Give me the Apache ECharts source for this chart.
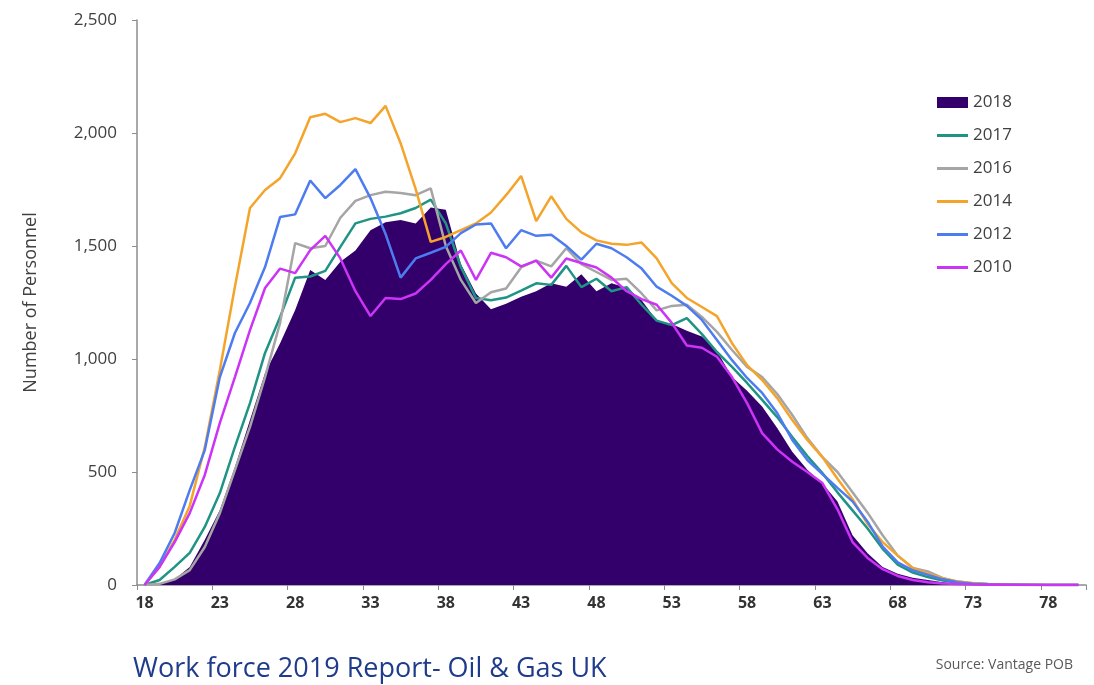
<!DOCTYPE html>
<html>
<head>
<meta charset="utf-8">
<script src="https://cdn.jsdelivr.net/npm/echarts@6/dist/echarts.min.js"></script>
<style>
  html, body { margin: 0; padding: 0; background: #fff; }
  #chart { width: 1094px; height: 685px; }
</style>
</head>
<body>
<div id="chart"></div>
<script>
// ages 18..80
const ages = ['18','19','20','21','22','23','24','25','26','27',
  '28','29','30','31','32','33','34','35','36','37',
  '38','39','40','41','42','43','44','45','46','47',
  '48','49','50','51','52','53','54','55','56','57',
  '58','59','60','61','62','63','64','65','66','67',
  '68','69','70','71','72','73','74','75','76','77',
  '78','79','80'];

const y2018 = [0, 8, 25, 80, 200, 332, 522, 730, 938, 1070,
  1217, 1394, 1350, 1430, 1480, 1570, 1605, 1615, 1600, 1670,
  1660, 1420, 1290, 1220, 1245, 1275, 1300, 1335, 1320, 1375,
  1300, 1335, 1315, 1260, 1170, 1155, 1125, 1100, 1035, 920,
  860, 790, 695, 590, 510, 450, 370, 220, 140, 80,
  50, 32, 22, 12, 6, 3, 1, 1, 0, 0,
  0, 0, 0];

const y2017 = [0, 22, 80, 142, 257, 407, 611, 805, 1027, 1186,
  1360, 1365, 1390, 1496, 1600, 1620, 1630, 1645, 1668, 1705,
  1600, 1407, 1270, 1260, 1272, 1303, 1335, 1328, 1412, 1318,
  1355, 1300, 1318, 1240, 1170, 1150, 1181, 1110, 1031, 965,
  894, 819, 743, 655, 571, 495, 410, 330, 250, 160,
  90, 55, 35, 20, 10, 5, 3, 2, 1, 1,
  0, 0, 0];

const y2016 = [0, 5, 25, 66, 168, 318, 509, 700, 920, 1160,
  1513, 1490, 1500, 1625, 1700, 1725, 1740, 1735, 1725, 1755,
  1500, 1350, 1248, 1295, 1312, 1405, 1435, 1410, 1490, 1420,
  1385, 1350, 1355, 1290, 1215, 1235, 1240, 1186, 1120, 1040,
  965, 920, 845, 752, 650, 566, 500, 410, 320, 220,
  130, 75, 60, 30, 15, 8, 4, 2, 1, 1,
  0, 0, 0];

const y2014 = [0, 80, 200, 350, 610, 951, 1320, 1668, 1748, 1800,
  1910, 2070, 2085, 2048, 2066, 2044, 2120, 1955, 1752, 1518,
  1540, 1570, 1600, 1648, 1725, 1810, 1610, 1720, 1620, 1560,
  1525, 1510, 1505, 1515, 1445, 1336, 1270, 1230, 1190, 1070,
  973, 907, 827, 730, 642, 566, 470, 380, 270, 190,
  130, 75, 50, 30, 15, 8, 4, 2, 1, 1,
  0, 0, 0];

const y2012 = [0, 97, 230, 420, 597, 920, 1115, 1248, 1407, 1628,
  1640, 1790, 1712, 1770, 1840, 1712, 1553, 1360, 1445, 1470,
  1496, 1557, 1595, 1600, 1490, 1570, 1545, 1550, 1500, 1440,
  1510, 1490, 1450, 1400, 1320, 1280, 1235, 1173, 1084, 995,
  916, 850, 761, 642, 553, 491, 430, 370, 280, 170,
  100, 65, 45, 25, 12, 6, 3, 1, 1, 0,
  0, 0, 0];

const y2010 = [0, 80, 190, 318, 487, 717, 920, 1128, 1314, 1400,
  1380, 1482, 1545, 1445, 1300, 1190, 1270, 1265, 1290, 1350,
  1420, 1480, 1350, 1470, 1450, 1410, 1435, 1360, 1445, 1425,
  1405, 1360, 1300, 1265, 1240, 1160, 1060, 1050, 1010, 920,
  805, 672, 600, 545, 500, 451, 335, 190, 120, 70,
  40, 22, 12, 7, 4, 2, 1, 1, 0, 0,
  0, 0, 0];

const lineSeries = [
  { name: '2017', data: y2017, color: '#1F9485' },
  { name: '2016', data: y2016, color: '#A5A5A5' },
  { name: '2014', data: y2014, color: '#F4A42A' },
  { name: '2012', data: y2012, color: '#4D7CF0' },
  { name: '2010', data: y2010, color: '#CC33F5' }
];

const font = '"Open Sans", sans-serif';
const lineIcon = 'path://M0,0H31V3H0Z';
const chart = echarts.init(document.getElementById('chart'));

const series = [{
  name: '2018',
  type: 'line',
  data: y2018,
  symbol: 'none',
  color: '#33006B',
  lineStyle: { width: 0 },
  areaStyle: { color: '#33006B', opacity: 1 },
  z: 1
}];
lineSeries.forEach(s => {
  series.push({
    name: s.name,
    type: 'line',
    data: s.data,
    symbol: 'none',
    color: s.color,
    lineStyle: { width: 2.5, color: s.color },
    z: 2
  });
});

chart.setOption({
  animation: false,
  title: [
    {
      text: 'Work force 2019 Report- Oil & Gas UK',
      left: 128, top: 651,
      textStyle: { color: '#1F3B8C', fontSize: 27, fontWeight: 'normal', fontFamily: font }
    },
    {
      text: 'Source: Vantage POB',
      right: 16, top: 653,
      textStyle: { color: '#595959', fontSize: 14, fontWeight: 'normal', fontFamily: font }
    }
  ],
  legend: {
    orient: 'vertical',
    left: 932, top: 89,
    itemWidth: 31, itemHeight: 11, itemGap: 16,
    textStyle: { fontSize: 17, color: '#404040', fontFamily: font },
    data: [
      { name: '2018', icon: 'rect' },
      { name: '2017', icon: lineIcon },
      { name: '2016', icon: lineIcon },
      { name: '2014', icon: lineIcon },
      { name: '2012', icon: lineIcon },
      { name: '2010', icon: lineIcon }
    ]
  },
  grid: { left: 137, right: 8, top: 20, bottom: 100, containLabel: false },
  xAxis: {
    type: 'category',
    data: ages,
    boundaryGap: true,
    axisLine: { lineStyle: { color: '#8C8C8C', width: 1.5 } },
    axisTick: { show: true, interval: 4, alignWithLabel: false, length: 5, lineStyle: { color: '#8C8C8C' } },
    axisLabel: { interval: 4, fontSize: 16, color: '#333', margin: 10, fontFamily: font, fontWeight: 'bold' },
    splitLine: { show: false }
  },
  yAxis: {
    type: 'value',
    min: 0, max: 2500, interval: 500,
    name: 'Number of Personnel',
    nameLocation: 'middle',
    nameRotate: 90,
    nameGap: 97,
    nameTextStyle: { fontSize: 18, color: '#404040', fontFamily: font },
    axisLine: { show: true, lineStyle: { color: '#8C8C8C', width: 1.5 } },
    axisTick: { show: true, length: 5, lineStyle: { color: '#8C8C8C' } },
    axisLabel: {
      fontSize: 17, color: '#404040', margin: 20, fontFamily: font,
      formatter: v => v.toLocaleString('en-US')
    },
    splitLine: { show: false }
  },
  series: series
});
</script>
</body>
</html>
